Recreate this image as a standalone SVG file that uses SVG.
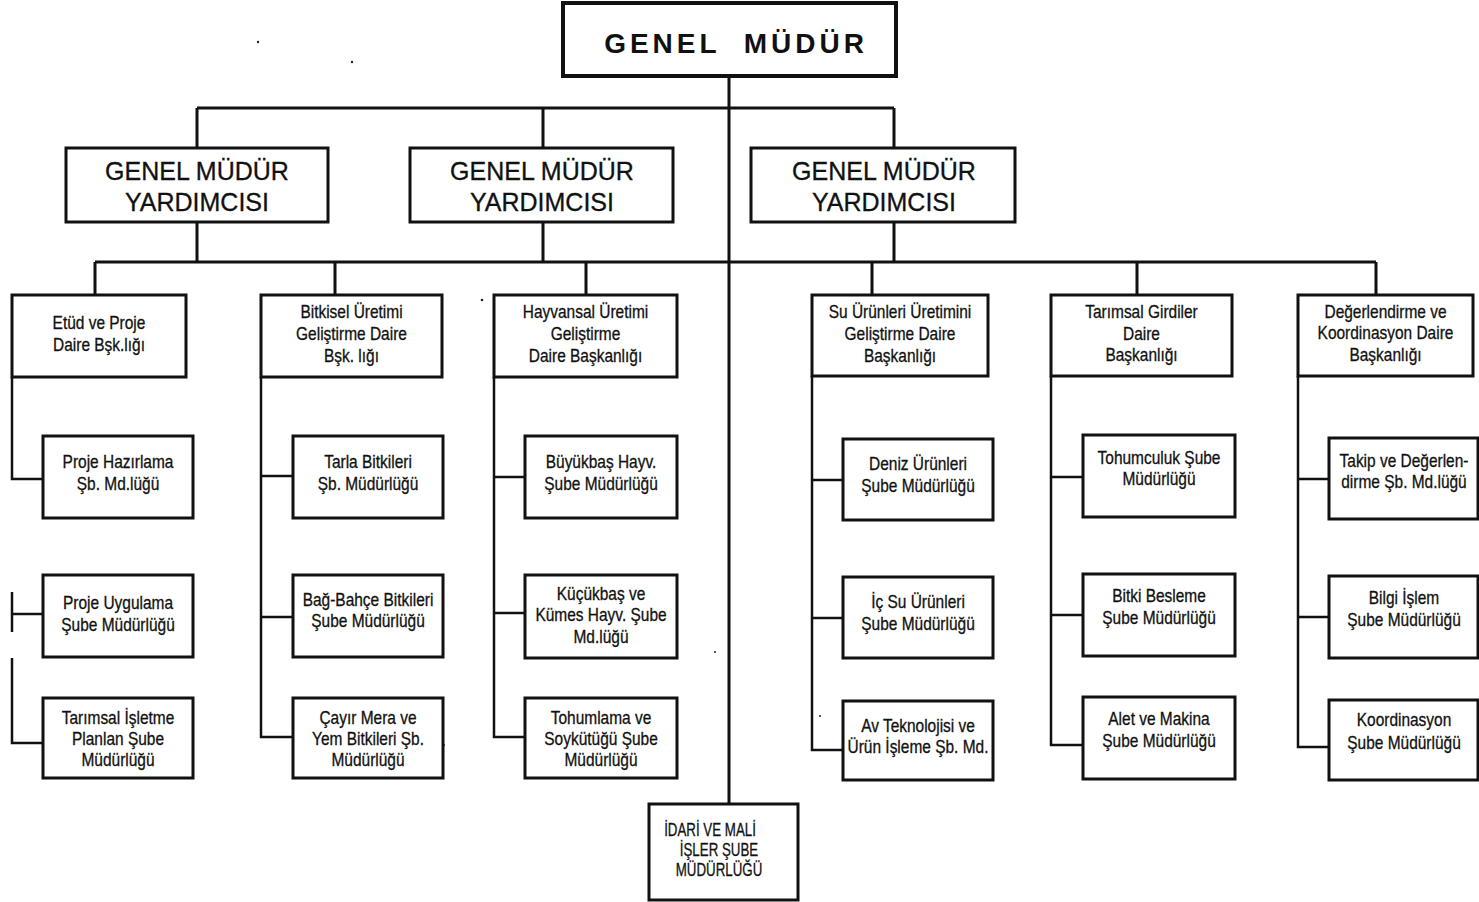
<svg xmlns="http://www.w3.org/2000/svg" width="1479" height="902" viewBox="0 0 1479 902">
<style>
.bx{fill:#fff;stroke:#111;stroke-width:3}
.c{stroke:#111;stroke-width:3;fill:none}
.cs{stroke:#111;stroke-width:2.5;fill:none}
.t{font-family:"Liberation Sans",Arial,sans-serif;font-size:18px;fill:#111;stroke:#111;stroke-width:0.3;text-anchor:middle}
.g{font-family:"Liberation Sans",Arial,sans-serif;font-size:25px;fill:#111;stroke:#111;stroke-width:0.3;text-anchor:middle}
.top{font-family:"Liberation Sans",Arial,sans-serif;font-size:28px;font-weight:bold;fill:#111;text-anchor:middle;letter-spacing:4px;white-space:pre}
.u{font-family:"Liberation Sans",Arial,sans-serif;font-size:18px;fill:#111;stroke:#111;stroke-width:0.3;text-anchor:middle}
</style>
<rect width="1479" height="902" fill="#fff"/>
<g id="connectors">
<path class="c" d="M729 76V804"/>
<path class="c" d="M197 108H894M197 108V148M543 108V148M894 108V148"/>
<path class="c" d="M197 222V262M543 222V262M894 222V262"/>
<path class="c" d="M95 262H1376M95 262V295M335 262V295M586 262V295M872 262V295M1137 262V295M1376 262V295"/>
<path class="cs" d="M12 377V479H43M12 592V632M12 614H43M12 658V743H43"/>
<path class="cs" d="M261 377V737H293M261 476H293M261 617H293"/>
<path class="cs" d="M494 377V737H525M494 477H525M494 613H525"/>
<path class="cs" d="M812 376V750H843M812 480H843M812 618H843"/>
<path class="cs" d="M1051 376V745H1083M1051 477H1083M1051 615H1083"/>
<path class="cs" d="M1298 376V747H1329M1298 479H1329M1298 617H1329"/>
</g>
<g id="specks" fill="#222">
<circle cx="258" cy="42" r="1.2"/><circle cx="352" cy="62" r="1.2"/><circle cx="482" cy="300" r="1.3"/><circle cx="444" cy="745" r="1"/><circle cx="715" cy="652" r="1"/><circle cx="820" cy="716" r="1"/>
</g>
<g id="genel-mudur">
<rect class="bx" x="563" y="3" width="333" height="73" style="stroke-width:4"/>
<text class="top" x="736" y="53">GENEL  MÜDÜR</text>
</g>
<g id="gmy1">
<rect class="bx" x="66" y="148" width="262" height="74"/>
<text class="g" x="197" y="180">GENEL MÜDÜR</text>
<text class="g" x="197" y="211">YARDIMCISI</text>
</g>
<g id="gmy2">
<rect class="bx" x="410" y="148" width="263" height="74"/>
<text class="g" x="542" y="180">GENEL MÜDÜR</text>
<text class="g" x="542" y="211">YARDIMCISI</text>
</g>
<g id="gmy3">
<rect class="bx" x="751" y="148" width="264" height="74"/>
<text class="g" x="884" y="180">GENEL MÜDÜR</text>
<text class="g" x="884" y="211">YARDIMCISI</text>
</g>
<g id="etud">
<rect class="bx" x="12" y="295" width="174" height="82"/>
<text class="t" transform="translate(99,329) scale(0.86,1)">Etüd ve Proje</text>
<text class="t" transform="translate(99,351) scale(0.86,1)">Daire Bşk.lığı</text>
</g>
<g id="bitkisel">
<rect class="bx" x="261" y="295" width="181" height="82"/>
<text class="t" transform="translate(351.5,318) scale(0.86,1)">Bitkisel Üretimi</text>
<text class="t" transform="translate(351.5,340) scale(0.86,1)">Geliştirme Daire</text>
<text class="t" transform="translate(351.5,362) scale(0.86,1)">Bşk. lığı</text>
</g>
<g id="hayvansal">
<rect class="bx" x="494" y="295" width="183" height="82"/>
<text class="t" transform="translate(585.5,318) scale(0.86,1)">Hayvansal Üretimi</text>
<text class="t" transform="translate(585.5,340) scale(0.86,1)">Geliştirme</text>
<text class="t" transform="translate(585.5,362) scale(0.86,1)">Daire Başkanlığı</text>
</g>
<g id="su">
<rect class="bx" x="812" y="295" width="176" height="81"/>
<text class="t" transform="translate(900,318) scale(0.86,1)">Su Ürünleri Üretimini</text>
<text class="t" transform="translate(900,340) scale(0.86,1)">Geliştirme Daire</text>
<text class="t" transform="translate(900,362) scale(0.86,1)">Başkanlığı</text>
</g>
<g id="girdiler">
<rect class="bx" x="1051" y="295" width="181" height="81"/>
<text class="t" transform="translate(1141.5,318) scale(0.86,1)">Tarımsal Girdiler</text>
<text class="t" transform="translate(1141.5,340) scale(0.86,1)">Daire</text>
<text class="t" transform="translate(1141.5,361) scale(0.86,1)">Başkanlığı</text>
</g>
<g id="degerlendirme">
<rect class="bx" x="1298" y="295" width="175" height="81"/>
<text class="t" transform="translate(1385.5,318) scale(0.86,1)">Değerlendirme ve</text>
<text class="t" transform="translate(1385.5,339) scale(0.86,1)">Koordinasyon Daire</text>
<text class="t" transform="translate(1385.5,361) scale(0.86,1)">Başkanlığı</text>
</g>
<g id="proje-hazirlama">
<rect class="bx" x="43" y="436" width="150" height="82"/>
<text class="t" transform="translate(118,468) scale(0.86,1)">Proje Hazırlama</text>
<text class="t" transform="translate(118,490) scale(0.86,1)">Şb. Md.lüğü</text>
</g>
<g id="proje-uygulama">
<rect class="bx" x="43" y="575" width="150" height="82"/>
<text class="t" transform="translate(118,609) scale(0.86,1)">Proje Uygulama</text>
<text class="t" transform="translate(118,631) scale(0.86,1)">Şube Müdürlüğü</text>
</g>
<g id="tarimsal-isletme">
<rect class="bx" x="43" y="698" width="150" height="80"/>
<text class="t" transform="translate(118,724) scale(0.86,1)">Tarımsal İşletme</text>
<text class="t" transform="translate(118,745) scale(0.86,1)">Planlan Şube</text>
<text class="t" transform="translate(118,766) scale(0.86,1)">Müdürlüğü</text>
</g>
<g id="tarla">
<rect class="bx" x="293" y="436" width="150" height="82"/>
<text class="t" transform="translate(368,468) scale(0.86,1)">Tarla Bitkileri</text>
<text class="t" transform="translate(368,490) scale(0.86,1)">Şb. Müdürlüğü</text>
</g>
<g id="bag-bahce">
<rect class="bx" x="293" y="575" width="150" height="82"/>
<text class="t" transform="translate(368,606) scale(0.86,1)">Bağ-Bahçe Bitkileri</text>
<text class="t" transform="translate(368,627) scale(0.86,1)">Şube Müdürlüğü</text>
</g>
<g id="cayir">
<rect class="bx" x="293" y="698" width="150" height="80"/>
<text class="t" transform="translate(368,724) scale(0.86,1)">Çayır Mera ve</text>
<text class="t" transform="translate(368,745) scale(0.86,1)">Yem Bitkileri Şb.</text>
<text class="t" transform="translate(368,766) scale(0.86,1)">Müdürlüğü</text>
</g>
<g id="buyukbas">
<rect class="bx" x="525" y="436" width="152" height="82"/>
<text class="t" transform="translate(601,468) scale(0.86,1)">Büyükbaş Hayv.</text>
<text class="t" transform="translate(601,490) scale(0.86,1)">Şube Müdürlüğü</text>
</g>
<g id="kucukbas">
<rect class="bx" x="525" y="575" width="152" height="83"/>
<text class="t" transform="translate(601,600) scale(0.86,1)">Küçükbaş ve</text>
<text class="t" transform="translate(601,621) scale(0.86,1)">Kümes Hayv. Şube</text>
<text class="t" transform="translate(601,643) scale(0.86,1)">Md.lüğü</text>
</g>
<g id="tohumlama">
<rect class="bx" x="525" y="698" width="152" height="80"/>
<text class="t" transform="translate(601,724) scale(0.86,1)">Tohumlama ve</text>
<text class="t" transform="translate(601,745) scale(0.86,1)">Soykütüğü Şube</text>
<text class="t" transform="translate(601,766) scale(0.86,1)">Müdürlüğü</text>
</g>
<g id="deniz">
<rect class="bx" x="843" y="439" width="150" height="81"/>
<text class="t" transform="translate(918,470) scale(0.86,1)">Deniz Ürünleri</text>
<text class="t" transform="translate(918,492) scale(0.86,1)">Şube Müdürlüğü</text>
</g>
<g id="ic-su">
<rect class="bx" x="843" y="577" width="150" height="81"/>
<text class="t" transform="translate(918,608) scale(0.86,1)">İç Su Ürünleri</text>
<text class="t" transform="translate(918,630) scale(0.86,1)">Şube Müdürlüğü</text>
</g>
<g id="av-teknolojisi">
<rect class="bx" x="843" y="701" width="150" height="79"/>
<text class="t" transform="translate(918,732) scale(0.86,1)">Av Teknolojisi ve</text>
<text class="t" transform="translate(918,753) scale(0.86,1)">Ürün İşleme Şb. Md.</text>
</g>
<g id="tohumculuk">
<rect class="bx" x="1083" y="435" width="152" height="82"/>
<text class="t" transform="translate(1159,464) scale(0.86,1)">Tohumculuk Şube</text>
<text class="t" transform="translate(1159,485) scale(0.86,1)">Müdürlüğü</text>
</g>
<g id="bitki-besleme">
<rect class="bx" x="1083" y="574" width="152" height="82"/>
<text class="t" transform="translate(1159,602) scale(0.86,1)">Bitki Besleme</text>
<text class="t" transform="translate(1159,624) scale(0.86,1)">Şube Müdürlüğü</text>
</g>
<g id="alet-makina">
<rect class="bx" x="1083" y="697" width="152" height="82"/>
<text class="t" transform="translate(1159,725) scale(0.86,1)">Alet ve Makina</text>
<text class="t" transform="translate(1159,747) scale(0.86,1)">Şube Müdürlüğü</text>
</g>
<g id="takip">
<rect class="bx" x="1329" y="438" width="149" height="81"/>
<text class="t" transform="translate(1404,467) scale(0.86,1)">Takip ve Değerlen-</text>
<text class="t" transform="translate(1404,488) scale(0.86,1)">dirme Şb. Md.lüğü</text>
</g>
<g id="bilgi-islem">
<rect class="bx" x="1329" y="576" width="149" height="82"/>
<text class="t" transform="translate(1404,604) scale(0.86,1)">Bilgi İşlem</text>
<text class="t" transform="translate(1404,626) scale(0.86,1)">Şube Müdürlüğü</text>
</g>
<g id="koordinasyon">
<rect class="bx" x="1329" y="700" width="149" height="80"/>
<text class="t" transform="translate(1404,726) scale(0.86,1)">Koordinasyon</text>
<text class="t" transform="translate(1404,749) scale(0.86,1)">Şube Müdürlüğü</text>
</g>
<g id="idari-mali">
<rect class="bx" x="649" y="804" width="149" height="96"/>
<text class="u" transform="translate(710,836) scale(0.74,1)">İDARİ VE MALİ</text>
<text class="u" transform="translate(719,856) scale(0.74,1)">İŞLER ŞUBE</text>
<text class="u" transform="translate(719,876) scale(0.74,1)">MÜDÜRLÜĞÜ</text>
</g>
</svg>
